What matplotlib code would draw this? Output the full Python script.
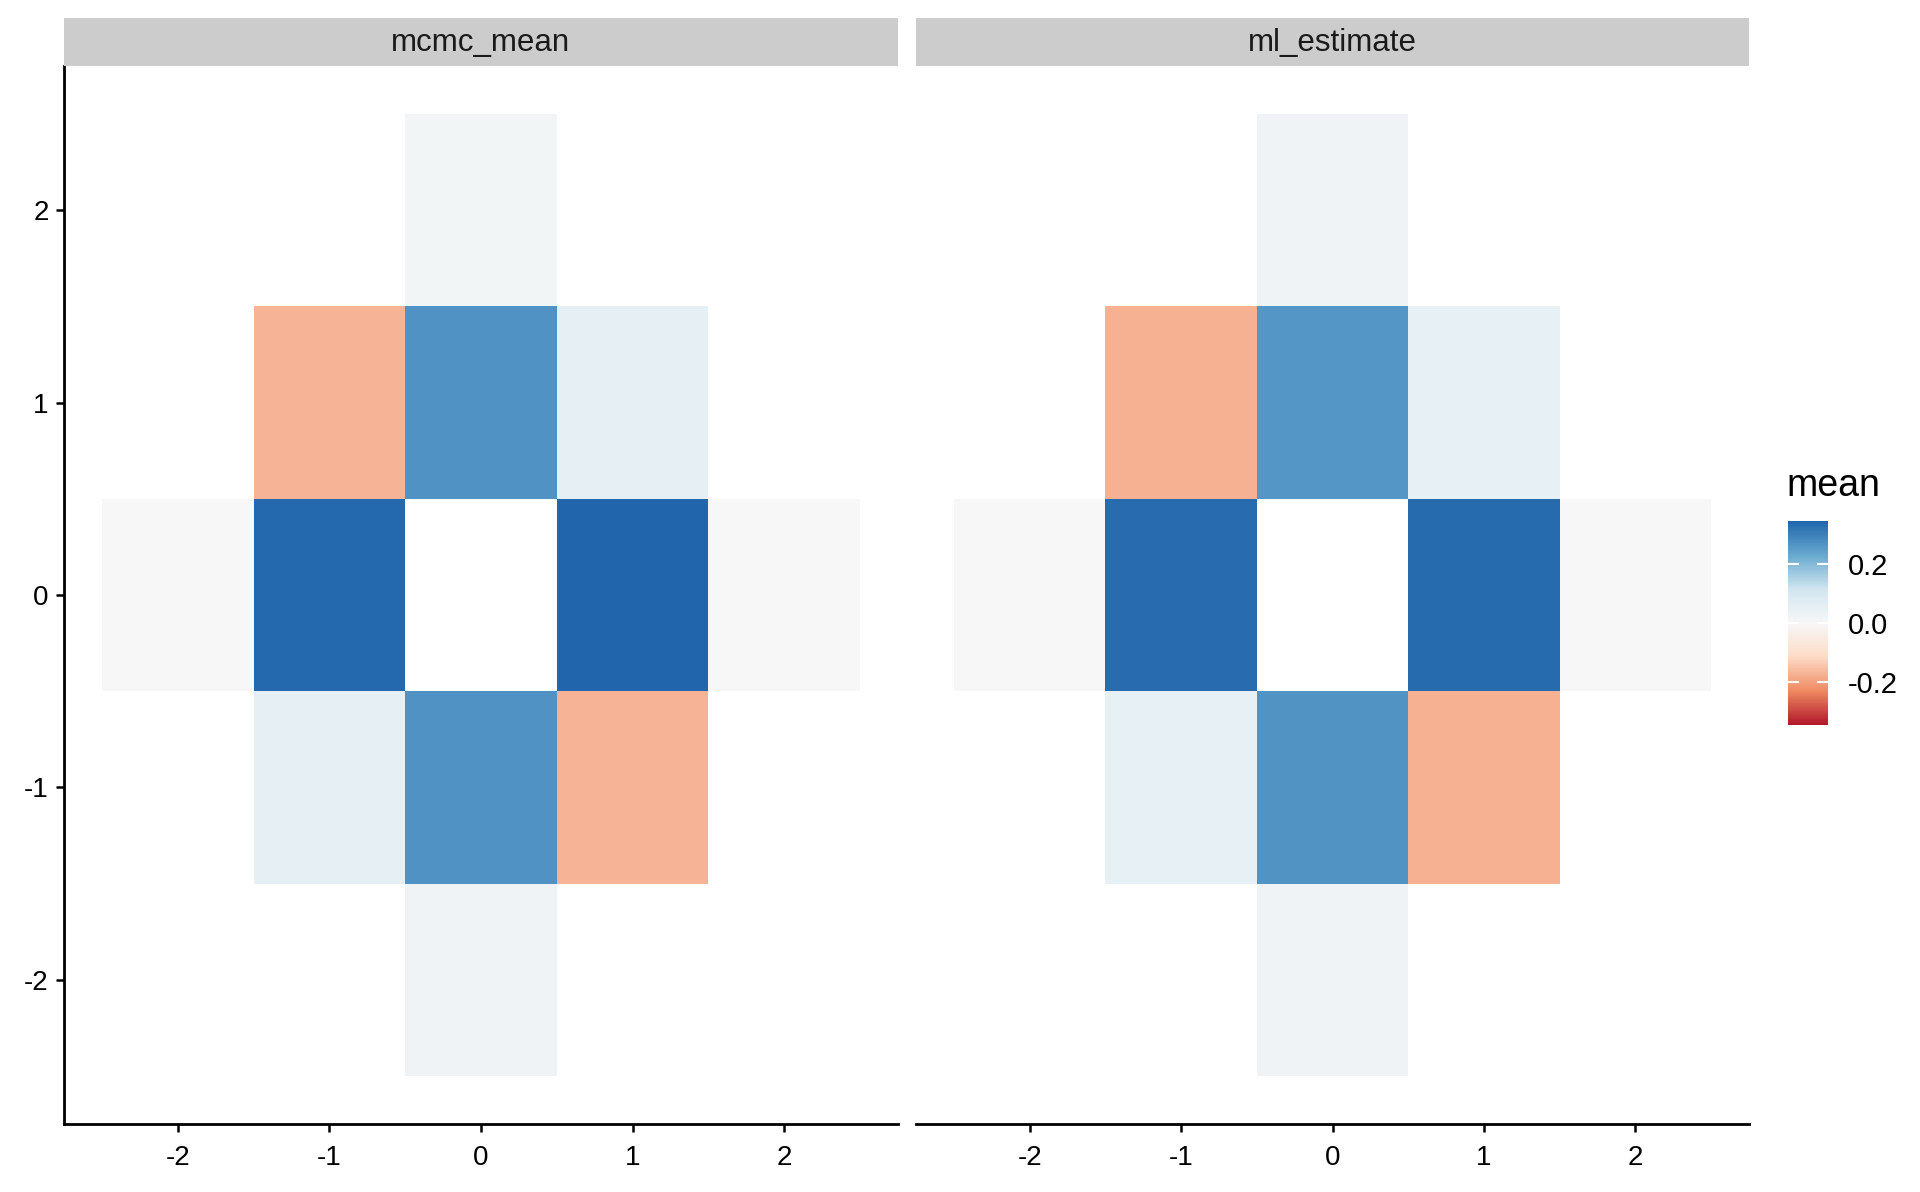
import numpy as np
import matplotlib
matplotlib.use("Agg")
import matplotlib.pyplot as plt
from matplotlib.colors import LinearSegmentedColormap

plt.rcParams['font.family'] = ['Liberation Sans', 'DejaVu Sans']

# ---- data ----
x_vals = [-2, -1, 0, 1, 2]
y_vals = [-2, -1, 0, 1, 2]
panels = ["mcmc_mean", "ml_estimate"]
nan = np.nan
# rows: y = -2 .. 2 ; columns: x = -2 .. 2
mcmc_mean = [
    [nan,   nan,    0.022,  nan,    nan],
    [nan,   0.050,  0.268, -0.172,  nan],
    [0.002, 0.338,  nan,    0.346,  0.002],
    [nan,  -0.172,  0.268,  0.050,  nan],
    [nan,   nan,    0.015,  nan,    nan],
]
ml_estimate = [
    [nan,   nan,    0.025,  nan,    nan],
    [nan,   0.048,  0.265, -0.174,  nan],
    [0.002, 0.333,  nan,    0.337,  0.002],
    [nan,  -0.174,  0.262,  0.048,  nan],
    [nan,   nan,    0.022,  nan,    nan],
]
legend_title = "mean"
color_ticks = [-0.2, 0.0, 0.2]
lim = 0.346

palette = ['#B2182B', '#EF8A62', '#FDDBC7', '#F7F7F7', '#D1E5F0', '#67A9CF', '#2166AC']
cmap = LinearSegmentedColormap.from_list("rdbu7", palette)

W, H = 1920, 1192
fig = plt.figure(figsize=(W / 100, H / 100), dpi=100)

def fx(px):
    return px / W

def fy(py):
    return 1 - py / H

top_px, bot_px = 66, 1124
strip_top = 18
panel_x = [(64, 898), (916, 1749)]
x_edges = np.arange(-2.5, 3.0, 1.0)
y_edges = np.arange(-2.5, 3.0, 1.0)

mesh = None
for i, (name, data) in enumerate(zip(panels, [mcmc_mean, ml_estimate])):
    x0, x1 = panel_x[i]
    ax = fig.add_axes([fx(x0), fy(bot_px), fx(x1 - x0), (bot_px - top_px) / H])
    arr = np.ma.masked_invalid(np.array(data, dtype=float))
    mesh = ax.pcolormesh(x_edges, y_edges, arr, cmap=cmap, vmin=-lim, vmax=lim,
                         shading='flat', edgecolors='none', antialiased=False)
    ax.set_xlim(-2.75, 2.75)
    ax.set_ylim(-2.75, 2.75)
    ax.set_xticks(x_vals)
    ax.set_xticklabels([str(v) for v in x_vals])
    for s in ['top', 'right']:
        ax.spines[s].set_visible(False)
    ax.spines['bottom'].set_linewidth(2.0)
    ax.spines['left'].set_linewidth(2.0)
    ax.tick_params(axis='both', length=6, width=1.8, color='black',
                   labelsize=20, labelcolor='black', pad=5)
    ax.tick_params(axis='x', pad=9)
    if i == 0:
        ax.set_yticks(y_vals)
        ax.set_yticklabels([str(v) for v in y_vals])
    else:
        ax.spines['left'].set_visible(False)
        ax.set_yticks([])
    # strip
    sax = fig.add_axes([fx(x0), fy(top_px), fx(x1 - x0), (top_px - strip_top) / H])
    sax.set_facecolor('#CCCCCC')
    for s in sax.spines.values():
        s.set_visible(False)
    sax.set_xticks([])
    sax.set_yticks([])
    sax.text(0.5, 0.47, name, ha='center', va='center', fontsize=22.5, color='#1A1A1A',
             transform=sax.transAxes)

# colorbar
cax = fig.add_axes([fx(1788), fy(725), fx(1828 - 1788), (725 - 521) / H])
cb = fig.colorbar(mesh, cax=cax, ticks=color_ticks)
cb.outline.set_visible(False)
cb.ax.set_yticklabels(["%.1f" % t for t in color_ticks])
cax.tick_params(left=True, right=True, labelleft=False, labelright=True,
                direction='in', color='white', length=8, width=1.5,
                labelsize=21, labelcolor='black', pad=14)
fig.text(fx(1786), fy(486), legend_title, fontsize=27, ha='left', va='center', color='black')

fig.savefig("out.png", dpi=100, facecolor='white')
